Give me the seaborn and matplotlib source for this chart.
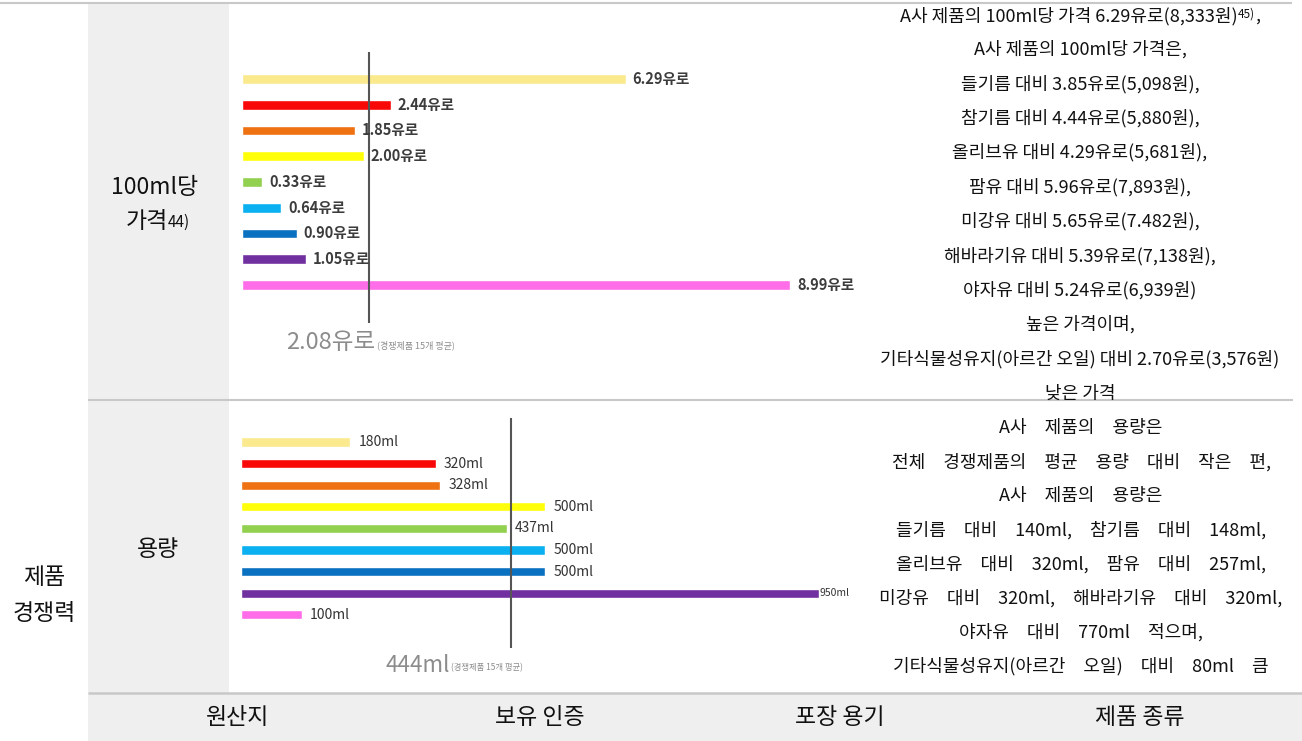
import pandas as pd
import matplotlib.pyplot as plt
import seaborn as sns
from matplotlib.patches import Rectangle

sns.set_theme(style='white')
plt.rcParams['font.family'] = ['Noto Sans CJK KR', 'DejaVu Sans']

# bar data (A사 price itself, then gap vs each competitor group)
products = ['A사', '들기름', '참기름', '올리브유', '팜유', '미강유', '해바라기유', '야자유', '기타식물성유지']
price_values = [6.29, 2.44, 1.85, 2.00, 0.33, 0.64, 0.90, 1.05, 8.99]
volume_ml = [180, 320, 328, 500, 437, 500, 500, 950, 100]
bar_colors = ['#fbe98e', '#f90808', '#ee7212', '#ffff0a', '#92d050',
              '#0ab0f0', '#0a70c0', '#7030a0', '#ff6ee8']
price_avg = 2.08
volume_avg = 444
avg_note = '(경쟁제품 15개 평균)'

price_text = [
    'A사 제품의 100ml당 가격은,',
    '들기름 대비 3.85유로(5,098원),',
    '참기름 대비 4.44유로(5,880원),',
    '올리브유 대비 4.29유로(5,681원),',
    '팜유 대비 5.96유로(7,893원),',
    '미강유 대비 5.65유로(7.482원),',
    '해바라기유 대비 5.39유로(7,138원),',
    '야자유 대비 5.24유로(6,939원)',
    '높은 가격이며,',
    '기타식물성유지(아르간 오일) 대비 2.70유로(3,576원)',
    '낮은 가격',
]
price_first = ['A사 제품의 100ml당 가격 6.29유로(8,333원)', '45)', ',']
volume_text = [
    'A사 제품의 용량은',
    '전체 경쟁제품의 평균 용량 대비 작은 편,',
    'A사 제품의 용량은',
    '들기름 대비 140ml, 참기름 대비 148ml,',
    '올리브유 대비 320ml, 팜유 대비 257ml,',
    '미강유 대비 320ml, 해바라기유 대비 320ml,',
    '야자유 대비 770ml 적으며,',
    '기타식물성유지(아르간 오일) 대비 80ml 큼',
]
bottom_headers = ['원산지', '보유 인증', '포장 용기', '제품 종류']

W, H = 1302, 741
fig = plt.figure(figsize=(W / 100, H / 100), dpi=100)

# background table, 1 data unit = 1 pixel
bg = fig.add_axes([0, 0, 1, 1])
bg.set_xlim(0, W)
bg.set_ylim(H, 0)
bg.axis('off')
bg.add_patch(Rectangle((88, 4), 141, 689, color='#efefef', lw=0))
bg.add_patch(Rectangle((88, 693), W - 88, 48, color='#efefef', lw=0))
line_c = '#c8c8c8'
bg.hlines(3, 0, 1292, color=line_c, lw=1.5)
bg.hlines(400, 88, 1293, color=line_c, lw=1.5)
bg.hlines(693, 88, W, color=line_c, lw=1.8)

big = 16.5
txt_c = '#111111'
bg.text(155, 188, '100ml당', fontsize=big, ha='center', va='center', color=txt_c)
bg.text(158, 550, '용량', fontsize=big, ha='center', va='center', color=txt_c)
bg.text(44, 578, '제품', fontsize=big, ha='center', va='center', color=txt_c)
bg.text(44, 613, '경쟁력', fontsize=big, ha='center', va='center', color=txt_c)
for xc, lab in zip([238, 540, 840, 1140], bottom_headers):
    bg.text(xc, 718, lab, fontsize=big, ha='center', va='center', color=txt_c)


def mixed_line(xc, y, parts):
    # parts: (text, size, raise_px) drawn on one baseline, centred at xc
    texts = [bg.text(0, y - up, s, fontsize=sz, ha='left', va='baseline', color=txt_c)
             for s, sz, up in parts]
    fig.canvas.draw()
    r = fig.canvas.get_renderer()
    widths = [t.get_window_extent(r).width for t in texts]
    x = xc - sum(widths) / 2
    for t, w in zip(texts, widths):
        t.set_x(x)
        x += w


mixed_line(158, 228, [('가격', big, 0), ('44)', 11, 1)])

col_fs = 13
mixed_line(1080, 21, [(price_first[0], col_fs, 0), (price_first[1], 8.5, 3),
                      (price_first[2], col_fs, 0)])
for i, s in enumerate(price_text):
    bg.text(1080, 15 + 34.4 * (i + 1), s, fontsize=col_fs, ha='center', va='center', color=txt_c)
# the volume block is set with wide word spacing
for i, s in enumerate(volume_text):
    bg.text(1081, 428 + 34.1 * i, s.replace(' ', '\u3000'), fontsize=col_fs,
            ha='center', va='center', color=txt_c)


def px_axes(x0, y0, x1, y1):
    return fig.add_axes([x0 / W, 1 - y1 / H, (x1 - x0) / W, (y1 - y0) / H])


# price chart
ax1 = px_axes(242, 40, 870, 330)
ax1.patch.set_alpha(0)
df1 = pd.DataFrame({'product': products, 'value': price_values})
sns.barplot(data=df1, x='value', y='product', hue='product', palette=bar_colors,
            orient='h', width=0.38, saturation=1, legend=False, ax=ax1)
ax1.set_xlim(0, 628 / 61)
ax1.set_ylim(9.75, -1.515)
ax1.axis('off')
for v, cont in zip(price_values, ax1.containers):
    ax1.bar_label(cont, labels=[f'{v:.2f}유로'], padding=5, fontsize=10.5,
                  fontweight='bold', color='#3c3c3c')
ax1.vlines(price_avg, -1.05, 9.48, color='#555555', lw=1.5)
ax1.annotate(f'{price_avg:.2f}유로', xy=(price_avg, 10.25), xytext=(5, 0),
             textcoords='offset points', ha='right', va='center', fontsize=17,
             color='#8c8c8c', annotation_clip=False)
ax1.annotate(avg_note, xy=(price_avg, 10.25), xytext=(6, -2),
             textcoords='offset points', ha='left', va='center', fontsize=6.5,
             color='#8c8c8c', annotation_clip=False)

# volume chart
ax2 = px_axes(241, 410, 870, 680)
ax2.patch.set_alpha(0)
df2 = pd.DataFrame({'product': products, 'value': volume_ml})
sns.barplot(data=df2, x='value', y='product', hue='product', palette=bar_colors,
            orient='h', width=0.42, saturation=1, legend=False, ax=ax2)
ax2.set_xlim(0, 629 / 0.608)
ax2.set_ylim(11.02, -1.48)
ax2.axis('off')
for v, cont in zip(volume_ml, ax2.containers):
    small = v == max(volume_ml)
    ax2.bar_label(cont, labels=[f'{v}ml'], padding=1 if small else 6,
                  fontsize=7.5 if small else 10, fontweight='medium', color='#333333')
ax2.vlines(volume_avg, -1.11, 9.54, color='#555555', lw=1.5)
ax2.annotate(f'{volume_avg}ml', xy=(volume_avg, 10.33), xytext=(-44, 0),
             textcoords='offset points', ha='right', va='center', fontsize=16,
             color='#8c8c8c', annotation_clip=False)
ax2.annotate(avg_note, xy=(volume_avg, 10.33), xytext=(-43, -2),
             textcoords='offset points', ha='left', va='center', fontsize=6,
             color='#8c8c8c', annotation_clip=False)

fig.savefig('out.png', dpi=100)
